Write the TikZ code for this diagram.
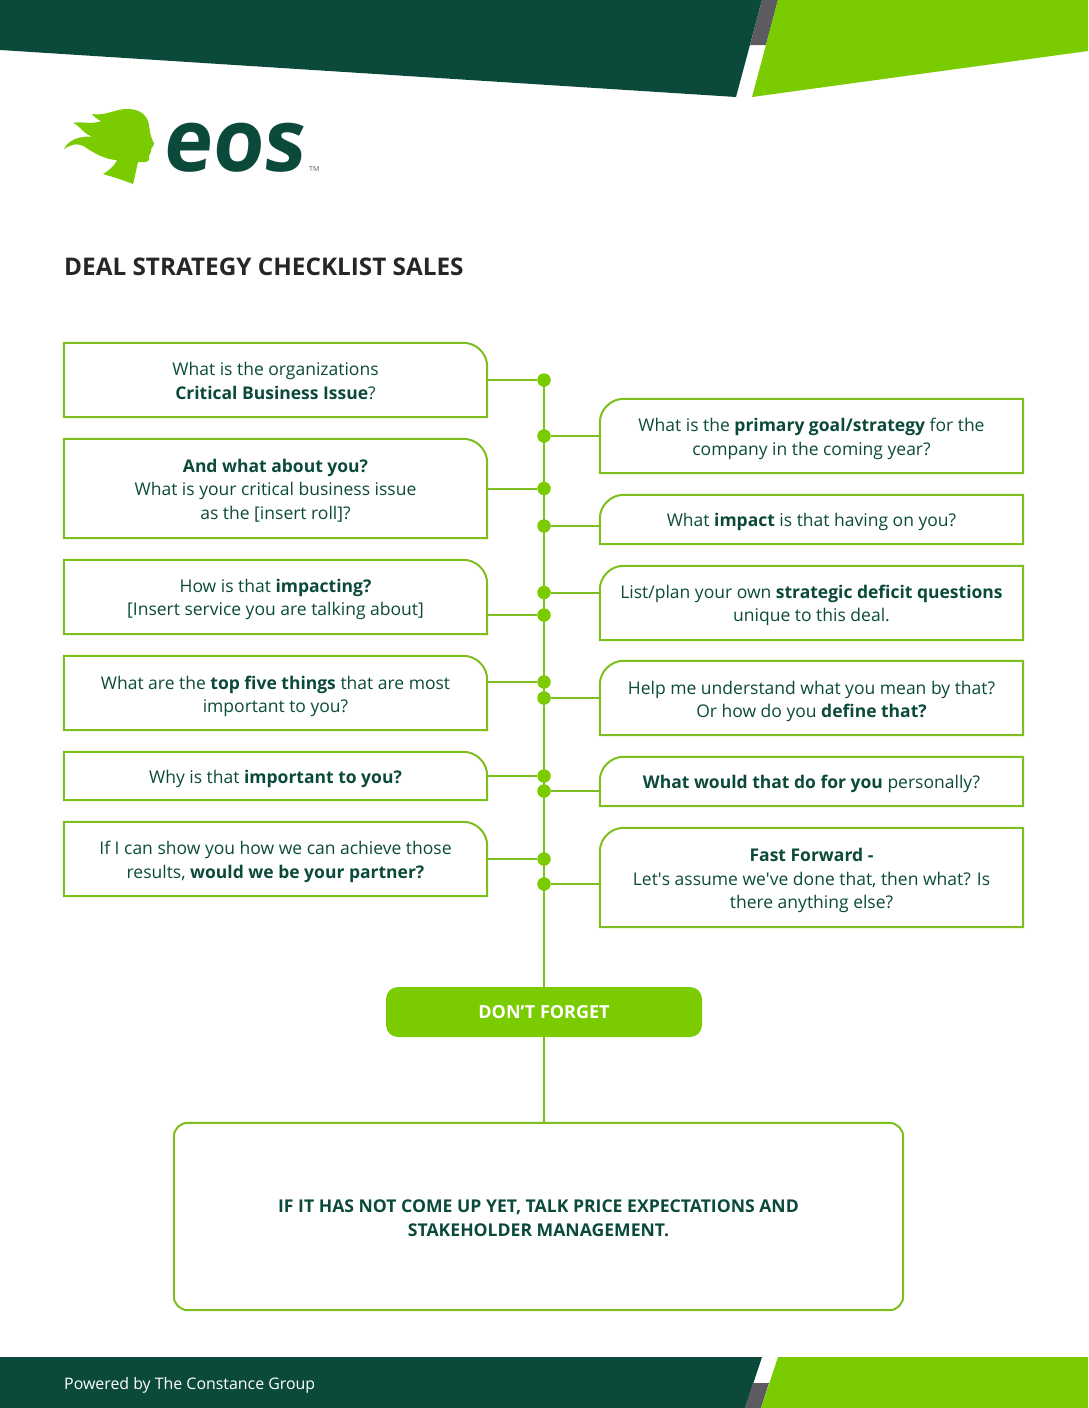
\documentclass[tikz,border=0pt]{standalone}
\usepackage{fontspec}
\setmainfont{Open Sans}
\newfontfamily\brandfont[FakeSlant=0.1]{Open Sans}
\usepackage{xcolor}
\definecolor{colDark}{HTML}{0B4A3A}
\definecolor{colLime}{HTML}{7ACC00}
\definecolor{colLine}{HTML}{7DBF1E}
\definecolor{colSlate}{HTML}{5B5B60}
\usetikzlibrary{positioning, calc, backgrounds}
\tikzset{
  wire/.style={draw=colLine, line width=2pt},
  qtext/.style={inner sep=0pt, minimum width=423pt, align=center, text=colDark, font=\fontsize{17.5}{23.5}\selectfont},
  leftbox/.style={qtext, append after command={\pgfextra{\draw[wire]
      ([yshift=#1]\tikzlastnode.north west) -- ([xshift=-24pt, yshift=#1]\tikzlastnode.north east)
      arc[start angle=90, end angle=0, radius=24pt]
      -- ([yshift=#1]\tikzlastnode.south east) -- ([yshift=#1]\tikzlastnode.south west) -- cycle;}}},
  rightbox/.style={qtext, append after command={\pgfextra{\draw[wire]
      ([yshift=#1]\tikzlastnode.north east) -- ([xshift=24pt, yshift=#1]\tikzlastnode.north west)
      arc[start angle=90, end angle=180, radius=24pt]
      -- ([yshift=#1]\tikzlastnode.south west) -- ([yshift=#1]\tikzlastnode.south east) -- cycle;}}},
  talkbox/.style={inner sep=0pt, minimum width=729pt, minimum height=187pt, align=center, text=colDark, font=\fontsize{17.6}{24}\selectfont\bfseries,
    append after command={\pgfextra{\draw[wire, rounded corners=14pt]
      ([yshift=#1]\tikzlastnode.north west) rectangle ([yshift=#1]\tikzlastnode.south east);}}},
  spot/.style={circle, fill=colLime, inner sep=0pt, minimum size=13.5pt},
}
\begin{document}
\begin{tikzpicture}[x=1pt, y=-1pt]
\useasboundingbox (0,0) rectangle (1088,1408);
% header and footer bands
\fill[colDark] (0,0) -- (762,0) -- (736,97) -- (0,50) -- cycle;
\fill[colSlate] (762,0) -- (778,0) -- (766,45) -- (750,45) -- cycle;
\fill[colLime] (778,0) -- (1088,0) -- (1088,51) -- (752,97) -- cycle;
\fill[colDark] (0,1357) -- (762,1357) -- (745,1408) -- (0,1408) -- cycle;
\fill[colSlate] (753,1383) -- (769,1383) -- (761,1408) -- (745,1408) -- cycle;
\fill[colLime] (778,1357) -- (1088,1357) -- (1088,1408) -- (761,1408) -- cycle;
% logo
\fill[colLime] (92,114) .. controls (104,116) and (114,110) .. (125,109)
  .. controls (140,108) and (148,116) .. (149,125)
  .. controls (150,132) and (150,136) .. (154,143)
  .. controls (154,147) and (150,148) .. (151,152)
  .. controls (150,155) and (148,155) .. (149,160)
  .. controls (147,163) and (142,162) .. (138,162)
  .. controls (136,170) and (135,177) .. (133,184)
  .. controls (123,180) and (113,177) .. (103,174)
  .. controls (108,171) and (114,167) .. (117,160)
  .. controls (107,160) and (95,154) .. (85,147)
  .. controls (77,142) and (70,145) .. (64,149)
  .. controls (68,141) and (78,135) .. (95,137)
  .. controls (84,136) and (80,125) .. (73,123)
  .. controls (82,121) and (92,125) .. (101,121)
  .. controls (97,119) and (94,117) .. (92,114) -- cycle;
\node[inner sep=0pt, anchor=base west, text=colDark, xscale=0.95, font=\fontsize{87}{87}\brandfont\bfseries] (brand) at (162,171) {eos};
\node[inner sep=0pt, anchor=base west, text=colSlate, font=\fontsize{7}{7}\selectfont] (trade) at (309,171) {TM};
\node[inner sep=0pt, anchor=base west, text=black!85, font=\fontsize{24.3}{28}\selectfont\bfseries] (title) at (64,275) {DEAL STRATEGY CHECKLIST SALES};
% left column
\node[leftbox=1pt, minimum height=74pt] (la) at (275.5,381) {What is the organizations\\\textbf{Critical Business Issue}?};
\node[leftbox=2pt, minimum height=99pt] (lb) at (275.5,490.5) {\textbf{And what about you?}\\What is your critical business issue\\as the [insert roll]?};
\node[leftbox=2.5pt, minimum height=74pt] (lc) at (275.5,599.5) {How is that \textbf{impacting?}\\{[Insert service you are talking about]}};
\node[leftbox=3.5pt, minimum height=74pt] (ld) at (275.5,696.5) {What are the \textbf{top five things} that are most\\important to you?};
\node[leftbox=3pt, minimum height=48pt] (le) at (275.5,779) {Why is that \textbf{important to you?}};
\node[leftbox=3pt, minimum height=74pt] (lf) at (275.5,862) {If I can show you how we can achieve those\\results, \textbf{would we be your partner?}};
% right column
\node[rightbox=3pt, minimum height=74pt] (ra) at (811.5,439) {What is the \textbf{primary goal/strategy} for the\\company in the coming year?};
\node[rightbox=2pt, minimum height=49pt] (rb) at (811.5,521.5) {What \textbf{impact} is that having on you?};
\node[rightbox=2.5pt, minimum height=74pt] (rc) at (811.5,605.5) {List/plan your own \textbf{strategic deficit questions}\\unique to this deal.};
\node[rightbox=3.5pt, minimum height=74pt] (rd) at (811.5,701.5) {Help me understand what you mean by that?\\Or how do you \textbf{define that?}};
\node[rightbox=2pt, minimum height=49pt] (re) at (811.5,783.5) {\textbf{What would that do for you} personally?};
\node[rightbox=3pt, minimum height=99pt] (rf) at (811.5,880.5) {\textbf{Fast Forward -}\\Let\textquotesingle s assume we\textquotesingle ve done that, then what? Is\\there anything else?};
% bottom boxes
\node[fill=colLime, rounded corners=12pt, minimum width=316pt, minimum height=50pt, inner sep=0pt, text=white, font=\fontsize{18}{22}\selectfont\bfseries] (forget) at (544,1012) {DON’T FORGET};
\node[talkbox=2pt] (talk) at (538.5,1218.5) {IF IT HAS NOT COME UP YET, TALK PRICE EXPECTATIONS AND\\STAKEHOLDER MANAGEMENT.};
\node[inner sep=0pt, anchor=base west, text=white, font=\fontsize{15.9}{20}\selectfont] (credit) at (64,1389) {Powered by The Constance Group};
% spots on the spine
\foreach \spotname/\spoty in {sa/380, sb/436, sc/488.5, sd/526, se/592.5, sf/615, sg/682, sh/698, si/776, sj/791, sk/859, sl/884}
  \node[spot] (\spotname) at (544,\spoty) {};
\begin{scope}[on background layer]
\draw[wire] (sa.center) -- (forget.north);
\draw[wire] (forget.south) -- (544,1123);
\foreach \spotname/\boxname in {sa/la, sc/lb, sf/lc, sg/ld, si/le, sk/lf}
  \draw[wire] (\spotname) -- (\spotname -| \boxname.east);
\foreach \spotname/\boxname in {sb/ra, sd/rb, se/rc, sh/rd, sj/re, sl/rf}
  \draw[wire] (\spotname) -- (\spotname -| \boxname.west);
\end{scope}
\end{tikzpicture}
\end{document}
